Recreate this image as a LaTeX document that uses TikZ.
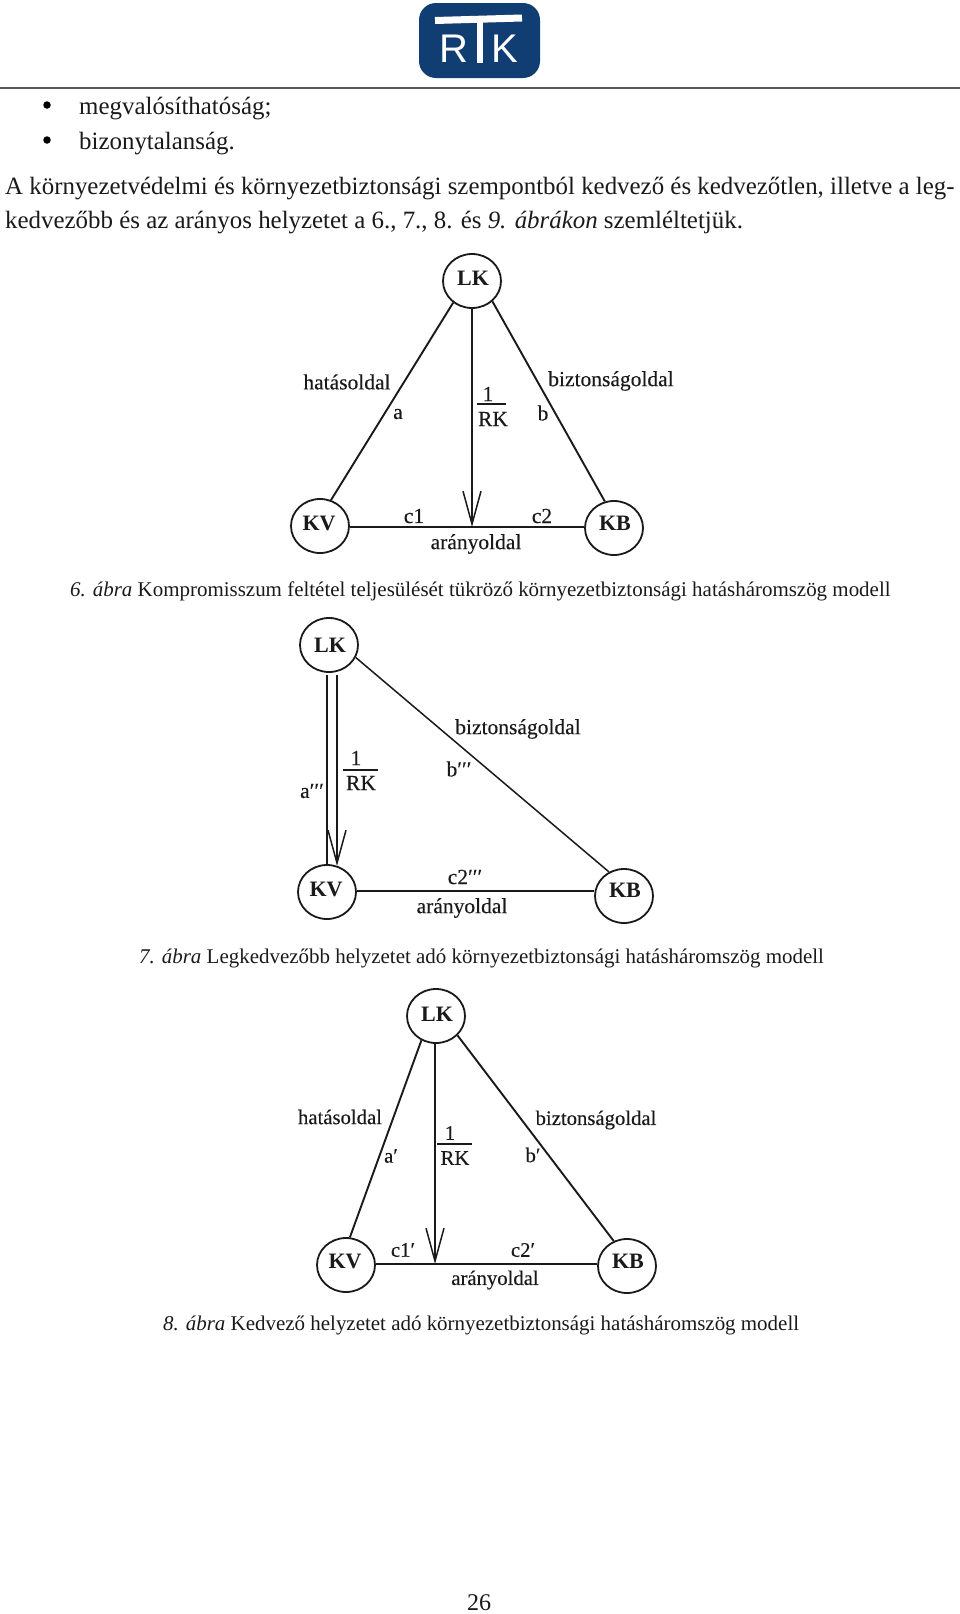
\documentclass[tikz,border=0pt]{standalone}
\usepackage{fontspec}
\setmainfont{Liberation Serif}
\newfontfamily\lblfont{Liberation Serif}[FakeBold=0.25]
\newfontfamily\logofont{Liberation Sans}
\usetikzlibrary{shapes.geometric,arrows.meta}
\definecolor{logoblue}{HTML}{103E72}
\definecolor{inkc}{HTML}{1A1A1A}
\tikzset{
  x=1pt,y=-1pt,
  vertex/.style={draw=inkc,line width=1.8pt,ellipse,minimum width=58pt,minimum height=54pt,inner sep=0pt,fill=white},
  vname/.style={inner sep=0pt,text=inkc,font=\fontsize{22}{22}\selectfont\bfseries},
  lbl/.style={inner sep=0pt,text=inkc,font=\fontsize{21.5}{23}\lblfont},
  lblsmall/.style={inner sep=0pt,text=inkc,font=\fontsize{20.7}{22}\lblfont},
  body/.style={inner sep=0pt,anchor=base west,text=inkc,font=\fontsize{24.9}{26}\selectfont},
  capt/.style={inner sep=0pt,anchor=base west,text=inkc,font=\fontsize{20.95}{22}\selectfont},
  edge/.style={draw=inkc,line width=1.9pt},
  thinedge/.style={draw=inkc,line width=1.5pt},
  ratio/.style={draw=inkc,line width=1.9pt,-{Straight Barb[length=33pt,width=18pt,line width=1.5pt]}},
  fracbar/.style={draw=inkc,line width=1.1pt},
  logotext/.style={inner sep=0pt,text=white},
  bulletdot/.style={circle,fill=black,minimum size=7.5pt,inner sep=0pt},
}
\begin{document}
\begin{tikzpicture}
\useasboundingbox (0,0) rectangle (960,1614);
\fill[white] (0,0) rectangle (960,1614);
% header
\fill[logoblue,rounded corners=17pt] (419,3) rectangle (540,78);
\node[logotext,font=\fontsize{24}{24}\logofont] (logoT) at (480,26) {T};
\draw[white,line width=6.5pt] (480,20) -- (480,63);
\draw[white,line width=7pt] (435,20.5) -- (522,18);
\node[logotext,font=\fontsize{40}{40}\logofont] (logoR) at (454,49) {R};
\node[logotext,font=\fontsize{40}{40}\logofont] (logoK) at (505,49) {K};
\draw[draw=black!65,line width=2pt] (0,88) -- (960,88);
% body text
\node[bulletdot] (bull1) at (47,105) {};
\node[bulletdot] (bull2) at (47,140) {};
\node[body] (t1) at (79,114) {megvalósíthatóság;};
\node[body] (t2) at (79,149) {bizonytalanság.};
\node[body] (t3) at (5,194) {A környezetvédelmi és környezetbiztonsági szempontból kedvező és kedvezőtlen, illetve a leg-};
\node[body] (t4) at (5,228) {kedvezőbb és az arányos helyzetet a 6., 7., 8. és \textit{9. ábrákon} szemléltetjük.};
\node[capt] (c6) at (70,596) {\textit{6. ábra} Kompromisszum feltétel teljesülését tükröző környezetbiztonsági hatásháromszög modell};
\node[capt] (c7) at (139,963) {\textit{7. ábra} Legkedvezőbb helyzetet adó környezetbiztonsági hatásháromszög modell};
\node[capt] (c8) at (163,1330) {\textit{8. ábra} Kedvező helyzetet adó környezetbiztonsági hatásháromszög modell};
\node[body,font=\fontsize{24}{26}\selectfont] (pg) at (467,1610) {26};
% figure 6
\node[vertex] (lk1) at (472,281) {};
\node[vertex] (kv1) at (320,526) {};
\node[vertex] (kb1) at (614,528) {};
\node[vname] (lkt1) at (473,278) {LK};
\node[vname] (kvt1) at (319,523) {KV};
\node[vname] (kbt1) at (615,523) {KB};
\coordinate (foot1) at (472,527);
\draw[edge] (lk1.229) -- (kv1.67);
\draw[edge] (lk1.315) -- (kb1.109);
\draw[edge] (kv1.east |- foot1) -- (kb1.west |- foot1);
\draw[ratio] (lk1) -- (foot1);
\node[lbl] (h1) at (347,382) {hatásoldal};
\node[lbl] (a1) at (398,414) {a};
\node[lbl] (n1) at (488,394) {1};
\draw[fracbar] (477,404) -- (506,404);
\node[lbl] (r1) at (493,419) {RK};
\node[lbl] (b1) at (543,413) {b};
\node[lbl] (bi1) at (611,381) {biztonságoldal};
\node[lbl] (c11) at (414,516) {c1};
\node[lbl] (c21) at (542,516) {c2};
\node[lbl] (ar1) at (476,544) {arányoldal};
% figure 7
\node[vertex] (lk2) at (329,645) {};
\node[vertex] (kv2) at (327,892) {};
\node[vertex] (kb2) at (624,896) {};
\node[vname] (lkt2) at (330,645) {LK};
\node[vname] (kvt2) at (326,889) {KV};
\node[vname] (kbt2) at (625,890) {KB};
\coordinate (ao2) at (327,675);
\coordinate (ai2) at (327,866);
\coordinate (ro2) at (337,675);
\coordinate (ri2) at (337,866);
\draw[edge] (ao2) -- (ai2);
\draw[ratio] (ro2) -- (ri2);
\draw[thinedge] (lk2.335) -- (kb2.122);
\draw[edge] (kv2.east |- 0,891) -- (kb2.west |- 0,891);
\node[lbl] (bi2) at (518,729) {biztonságoldal};
\node[lbl] (b2) at (459,769) {b′′′};
\node[lbl] (n2) at (356,758) {1};
\draw[fracbar] (343,770) -- (378,770);
\node[lbl] (r2) at (361,783) {RK};
\node[lbl] (a2) at (312,791) {a′′′};
\node[lbl] (c22) at (465,877) {c2′′′};
\node[lbl] (ar2) at (462,908) {arányoldal};
% figure 8
\node[vertex] (lk3) at (436,1016) {};
\node[vertex] (kv3) at (346,1265) {};
\node[vertex] (kb3) at (627,1266) {};
\node[vname] (lkt3) at (437,1014) {LK};
\node[vname] (kvt3) at (345,1261) {KV};
\node[vname] (kbt3) at (628,1261) {KB};
\coordinate (foot3) at (435,1264);
\draw[edge] (lk3.239) -- (kv3.82);
\draw[edge] (lk3.318) -- (kb3.118);
\draw[edge] (kv3.east |- foot3) -- (kb3.west |- foot3);
\draw[ratio] (lk3.south -| foot3) -- (foot3);
\node[lblsmall] (h3) at (340,1117) {hatásoldal};
\node[lblsmall] (a3) at (391,1156) {a′};
\node[lblsmall] (n3) at (450,1133) {1};
\draw[fracbar] (437,1144) -- (472,1144);
\node[lblsmall] (r3) at (455,1158) {RK};
\node[lblsmall] (b3) at (533,1155) {b′};
\node[lblsmall] (bi3) at (596,1120) {biztonságoldal};
\node[lblsmall] (c13) at (403,1250) {c1′};
\node[lblsmall] (c23) at (523,1250) {c2′};
\node[lblsmall] (ar3) at (495,1280) {arányoldal};
\end{tikzpicture}
\end{document}
